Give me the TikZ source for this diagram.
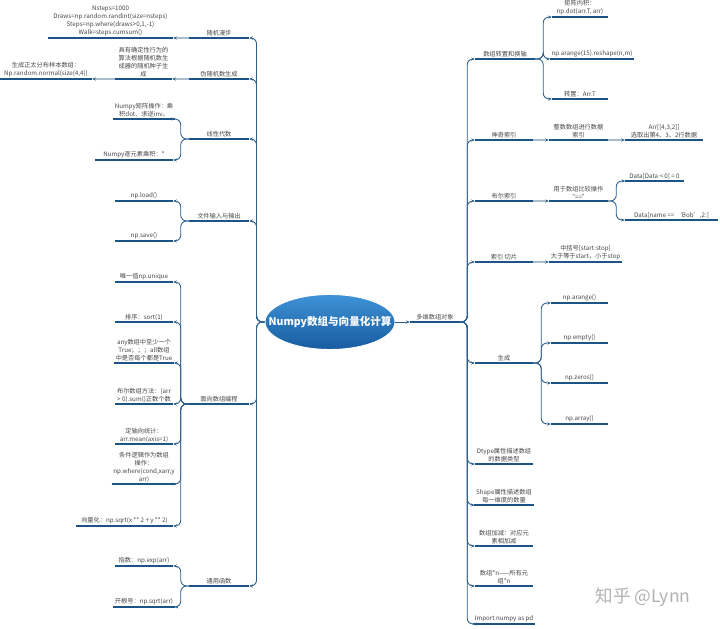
\documentclass[tikz,border=0pt]{standalone}
\usepackage{fontspec}
\setmainfont{Noto Sans CJK SC}
\usetikzlibrary{arrows.meta,shapes.geometric}

\definecolor{linblue}{RGB}{28,84,134}
\definecolor{connblue}{RGB}{45,95,140}
\definecolor{seqgray}{RGB}{168,188,206}
\definecolor{txtgray}{RGB}{70,70,70}
\definecolor{roottop}{RGB}{62,146,214}
\definecolor{rootbot}{RGB}{24,92,160}

\tikzset{
  uline/.style={draw=linblue, line width=1.5pt},
  topic/.style={font=\fontsize{5.3}{6.8}\selectfont, text=txtgray, align=center,
    inner sep=1.3pt, anchor=south,
    append after command={(\tikzlastnode.south west) edge[uline] (\tikzlastnode.south east)}},
  barlen/.style={minimum width=#1*0.03cm},
  conn/.style={draw=connblue, line width=0.75pt, rounded corners=5pt,
    -{Stealth[length=3pt,width=2.6pt]}},
  seq/.style={draw=seqgray, line width=1.2pt,
    -{Stealth[length=3pt,width=2.6pt,color=connblue]}},
  root/.style={ellipse, draw=white, line width=0.8pt, top color=roottop, bottom color=rootbot,
    minimum width=3.9cm, minimum height=1.65cm, inner xsep=-14pt, inner ysep=0pt, text=white,
    font=\fontsize{9}{11}\selectfont\bfseries}
}

\begin{document}
\begin{tikzpicture}[x=0.03cm, y=-0.03cm]
\useasboundingbox (0,0) rectangle (720,629);
% Root
\node[root] (root) at (330,322) {Numpy数组与向量化计算};

% Left side
\node[topic, barlen=60] (walk) at (219,38) {随机漫步};
\node[topic, barlen=125] (walkcode) at (110.5,38) {Nsteps=1000\\Draws=np.random.randint(size=nsteps)\\Steps=np.where(draws>0,1,-1)\\Walk=steps.cumsum()};
\node[topic, barlen=60] (prng) at (219,79) {伪随机数生成};
\node[topic, barlen=57] (prngdesc) at (143.5,79) {具有确定性行为的\\算法根据随机数生\\成器的随机种子生\\成};
\node[topic, barlen=92] (normal) at (46,79) {生成正太分布样本数组：\\Np.random.normal(size(4,4))};
\node[topic, barlen=60] (linalg) at (219,139) {线性代数};
\node[topic, barlen=58] (matop) at (144,119) {Numpy矩阵操作：乘\\积dot、求逆inv。};
\node[topic, barlen=78] (elemul) at (134,160) {Numpy逐元素乘积：*};
\node[topic, barlen=60] (fileio) at (219,221) {文件输入与输出};
\node[topic, barlen=58] (npload) at (144,201) {np.load()};
\node[topic, barlen=58] (npsave) at (144,241) {np.save()};
\node[topic, barlen=60] (arrprog) at (219,404) {面向数组编程};
\node[topic, barlen=58] (uniq) at (144,282) {唯一值np.unique};
\node[topic, barlen=58] (sortn) at (144,322) {排序：sort(1)};
\node[topic, barlen=58] (anyall) at (144,363) {any数组中至少一个\\True；；；all数组\\中是否每个都是True};
\node[topic, barlen=58] (boolsum) at (144,404) {布尔数组方法：(arr\\> 0).sum()正数个数};
\node[topic, barlen=58] (axmean) at (144,444) {定轴向统计：\\arr.mean(axis=1)};
\node[topic, barlen=58] (cond) at (144,484) {条件逻辑作为数组\\操作：\\np.where(cond,xarr,y\\arr)};
\node[topic, barlen=97] (vect) at (124.5,526) {向量化：np.sqrt(x ** 2 + y ** 2)};
\node[topic, barlen=60] (ufunc) at (219,586) {通用函数};
\node[topic, barlen=58] (npexp) at (144,566) {指数：np.exp(arr)};
\node[topic, barlen=58] (npsqrt) at (144,607) {开根号：np.sqrt(arr)};

% Right side
\node[topic, barlen=50] (ndarr) at (435,322) {多维数组对象};
\node[topic, barlen=60] (trans) at (505,59) {数组转置和换轴};
\node[topic, barlen=56] (dotp) at (580,17) {矩阵内积：\\np.dot(arr.T, arr)};
\node[topic, barlen=80] (reshape) at (592,59) {np.arange(15).reshape(n,m)};
\node[topic, barlen=56] (transT) at (580,99) {转置：Arr.T};
\node[topic, barlen=58] (fancy) at (504,140) {神奇索引};
\node[topic, barlen=59] (intidx) at (578.5,140) {整数数组进行数据\\索引};
\node[topic, barlen=78] (pick) at (664,140) {Arr[[4,3,2]]\\选取出第4、3、2行数据};
\node[topic, barlen=58] (boolidx) at (504,201) {布尔索引};
\node[topic, barlen=59] (cmp) at (578.5,201) {用于数组比较操作\\“==”};
\node[topic, barlen=58] (neg) at (654.5,181) {Data[Data < 0] = 0};
\node[topic, barlen=93] (bob) at (671.5,220) {Data[name == ‘Bob’,2:]};
\node[topic, barlen=58] (slice) at (504,262) {索引 切片};
\node[topic, barlen=73] (sliceto) at (585.5,262) {中括号[start:stop]\\大于等于start，小于stop};
\node[topic, barlen=58] (gen) at (504,363) {生成};
\node[topic, barlen=58] (dtype) at (504,464) {Dtype属性描述数组\\的数据类型};
\node[topic, barlen=58] (shape) at (504,505) {Shape属性描述数组\\每一维度的数量};
\node[topic, barlen=58] (addsub) at (504,546) {数组加减：对应元\\素相加减};
\node[topic, barlen=58] (muln) at (504,586) {数组*n——所有元\\组*n};
\node[topic, barlen=58] (imp) at (504,624) {Import numpy as pd};
\foreach \n/\y/\t in {arange/303/np.arange(), empty/343/np.empty(), zeros/383/np.zeros(), array/424/np.array()} {
  \node[topic, barlen=57] (\n) at (579.5,\y) {\t};
  \draw[conn] (gen.south east) -- ++(8,0) |- (\n.south west);
}

% Left connectors
\foreach \n in {walk,prng,linalg,fileio,arrprog,ufunc}
  \draw[conn] (root.west) -- ++(-8,0) |- (\n.south east);
\foreach \n in {matop,elemul}
  \draw[conn] (linalg.south west) -- ++(-8,0) |- (\n.south east);
\foreach \n in {npload,npsave}
  \draw[conn] (fileio.south west) -- ++(-8,0) |- (\n.south east);
\foreach \n in {uniq,sortn,anyall,boolsum,axmean,cond,vect}
  \draw[conn] (arrprog.south west) -- ++(-8,0) |- (\n.south east);
\foreach \n in {npexp,npsqrt}
  \draw[conn] (ufunc.south west) -- ++(-8,0) |- (\n.south east);
\draw[seq] (walk.south west) -- (walkcode.south east);
\draw[seq] (prng.south west) -- (prngdesc.south east);
\draw[seq] (prngdesc.south west) -- (normal.south east);

% Right connectors
\draw[conn] (root.east) -- (ndarr.south west);
\foreach \n in {trans,fancy,boolidx,slice,gen,dtype,shape,addsub,muln,imp}
  \draw[conn] (ndarr.south east) -- ++(7,0) |- (\n.south west);
\foreach \n in {dotp,reshape,transT}
  \draw[conn] (trans.south east) -- ++(8,0) |- (\n.south west);
\foreach \n in {neg,bob}
  \draw[conn] (cmp.south east) -- ++(8,0) |- (\n.south west);
\draw[seq] (fancy.south east) -- (intidx.south west);
\draw[seq] (intidx.south east) -- (pick.south west);
\draw[seq] (boolidx.south east) -- (cmp.south west);
\draw[seq] (slice.south east) -- (sliceto.south west);

% Watermark
\node[text=black!30, font=\fontsize{15}{16}\selectfont] (mark) at (643,597) {知乎 @Lynn};
\end{tikzpicture}
\end{document}
